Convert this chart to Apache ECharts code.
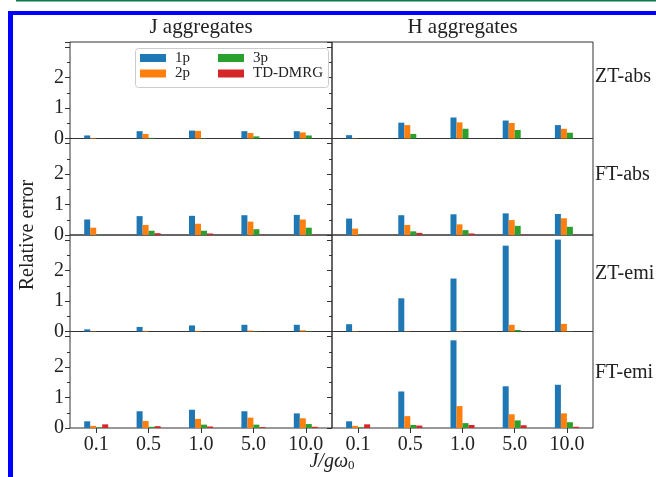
<!DOCTYPE html>
<html>
<head>
<meta charset="utf-8">
<script src="https://cdn.jsdelivr.net/npm/echarts@6/dist/echarts.min.js"></script>
<style>
  html, body { margin: 0; padding: 0; background: #fff; }
  #chart { width: 656px; height: 477px; }
</style>
</head>
<body>
<div id="chart"></div>
<script>
// ---------- data ----------
const categories = ['0.1', '0.5', '1.0', '5.0', '10.0'];
const methods = ['1p', '2p', '3p', 'TD-DMRG'];
const colTitles = ['J aggregates', 'H aggregates'];
const rowLabels = ['ZT-abs', 'FT-abs', 'ZT-emi', 'FT-emi'];
const yTicks = [0, 1, 2];

// each panel: [1p, 2p, 3p, TD-DMRG]
const jZtAbs = [
  [0.10, 0.24, 0.26, 0.24, 0.24],
  [0.02, 0.15, 0.25, 0.18, 0.20],
  [0.00, 0.02, 0.01, 0.07, 0.10],
  [0.00, 0.00, 0.00, 0.00, 0.00]
];
const hZtAbs = [
  [0.11, 0.52, 0.69, 0.59, 0.44],
  [0.01, 0.44, 0.53, 0.51, 0.32],
  [0.00, 0.15, 0.32, 0.28, 0.19],
  [0.00, 0.00, 0.00, 0.00, 0.00]
];
const jFtAbs = [
  [0.51, 0.62, 0.63, 0.65, 0.66],
  [0.24, 0.33, 0.37, 0.44, 0.51],
  [0.01, 0.14, 0.14, 0.19, 0.24],
  [0.00, 0.06, 0.05, 0.01, 0.01]
];
const hFtAbs = [
  [0.54, 0.65, 0.68, 0.71, 0.69],
  [0.21, 0.33, 0.35, 0.49, 0.55],
  [0.01, 0.12, 0.16, 0.30, 0.27],
  [0.00, 0.07, 0.05, 0.01, 0.01]
];
const jZtEmi = [
  [0.07, 0.15, 0.20, 0.22, 0.22],
  [0.01, 0.02, 0.02, 0.03, 0.04],
  [0.00, 0.00, 0.00, 0.01, 0.01],
  [0.00, 0.00, 0.00, 0.00, 0.00]
];
const hZtEmi = [
  [0.24, 1.09, 1.74, 2.82, 3.02],
  [0.01, 0.01, 0.01, 0.22, 0.25],
  [0.00, 0.00, 0.00, 0.05, 0.01],
  [0.00, 0.00, 0.00, 0.00, 0.00]
];
const jFtEmi = [
  [0.22, 0.55, 0.60, 0.55, 0.48],
  [0.07, 0.23, 0.30, 0.34, 0.32],
  [0.02, 0.04, 0.11, 0.11, 0.13],
  [0.12, 0.06, 0.05, 0.03, 0.04]
];
const hFtEmi = [
  [0.22, 1.20, 2.88, 1.37, 1.42],
  [0.07, 0.39, 0.72, 0.45, 0.48],
  [0.02, 0.10, 0.16, 0.25, 0.19],
  [0.12, 0.08, 0.10, 0.09, 0.04]
];
const panels = [
  [jZtAbs, hZtAbs],
  [jFtAbs, hFtAbs],
  [jZtEmi, hZtEmi],
  [jFtEmi, hFtEmi]
];

// ---------- layout / style ----------
const colors = ['#1f77b4', '#ff7f0e', '#2ca02c', '#d62728'];
const FONT = '"Liberation Serif", "DejaVu Serif", serif';
const TXT = '#222';
const colLeft = [70, 332];
const colWidth = [262, 261];
const rowTop0 = 42;
const rowH = 96.5;
const yMax = 3.17;

const grids = [], xAxes = [], yAxes = [], series = [];
let idx = 0;
for (let r = 0; r < 4; r++) {
  for (let c = 0; c < 2; c++) {
    const bottom = r === 3;
    grids.push({
      left: colLeft[c], top: rowTop0 + r * rowH, width: colWidth[c], height: rowH,
      show: true, borderColor: '#333', borderWidth: 1, backgroundColor: 'transparent'
    });
    xAxes.push({
      type: 'category', gridIndex: idx, data: categories, boundaryGap: true,
      axisLine: { show: false },
      axisTick: { show: bottom, alignWithLabel: true, inside: false, length: 5, lineStyle: { color: '#333' } },
      axisLabel: { show: bottom, fontFamily: FONT, fontSize: 20, color: TXT, margin: 7 },
      splitLine: { show: false }
    });
    yAxes.push({
      type: 'value', gridIndex: idx, min: 0, max: yMax, interval: 1,
      axisLine: { show: false },
      axisTick: { show: true, inside: false, length: 5, lineStyle: { color: '#333' } },
      minorTick: { show: true, splitNumber: 2, length: 3, lineStyle: { color: '#333' } },
      axisLabel: {
        show: c === 0, fontFamily: FONT, fontSize: 20, color: TXT, margin: 6,
        formatter: v => (yTicks.indexOf(v) >= 0 ? String(v) : '')
      },
      splitLine: { show: false }
    });
    const pdata = panels[r][c];
    for (let m = 0; m < 4; m++) {
      series.push({
        type: 'bar', name: methods[m], xAxisIndex: idx, yAxisIndex: idx,
        data: pdata[m], barWidth: 6, barGap: '0%',
        itemStyle: { color: colors[m] }
      });
    }
    idx++;
  }
}

// legend: 2 columns (column-major like matplotlib ncol=2)
const legendPos = [
  { name: '1p', left: 140, top: 50 },
  { name: '2p', left: 140, top: 65.5 },
  { name: '3p', left: 218, top: 50 },
  { name: 'TD-DMRG', left: 218, top: 65.5 }
];
const legends = legendPos.map(p => ({
  data: [p.name], left: p.left, top: p.top, padding: 0,
  itemWidth: 26, itemHeight: 8, icon: 'rect', selectedMode: false,
  textStyle: { fontFamily: FONT, fontSize: 15, color: TXT, lineHeight: 16, padding: [0, 0, 0, 4] }
}));

const graphics = [
  // journal frame
  { type: 'rect', shape: { x: 16, y: 0, width: 640, height: 1.5 }, style: { fill: '#0a7a48' }, silent: true },
  { type: 'rect', shape: { x: 8, y: 11, width: 648, height: 4 }, style: { fill: '#0000ff' }, silent: true },
  { type: 'rect', shape: { x: 8, y: 11, width: 5, height: 466 }, style: { fill: '#0000ff' }, silent: true },
  // legend box
  { type: 'rect', shape: { x: 135.5, y: 48.5, width: 193, height: 39, r: 3 },
    style: { fill: 'rgba(255,255,255,0.8)', stroke: '#cccccc', lineWidth: 1 }, z: 3, silent: true },
  // column titles
  { type: 'text', x: colLeft[0] + colWidth[0] / 2, y: 27,
    style: { text: colTitles[0], font: '21px ' + FONT, fill: TXT, align: 'center', verticalAlign: 'middle' } },
  { type: 'text', x: colLeft[1] + colWidth[1] / 2, y: 27,
    style: { text: colTitles[1], font: '21px ' + FONT, fill: TXT, align: 'center', verticalAlign: 'middle' } },
  // y label
  { type: 'text', x: 28, y: 235, rotation: Math.PI / 2,
    style: { text: 'Relative error', font: '20px ' + FONT, fill: TXT, align: 'center', verticalAlign: 'middle' } },
  // x label
  { type: 'text', x: 332, y: 462,
    style: {
      text: '{i|J/gω}{s|0}', align: 'center', verticalAlign: 'middle',
      rich: {
        i: { fontFamily: FONT, fontStyle: 'italic', fontSize: 20, fill: TXT, color: TXT },
        s: { fontFamily: FONT, fontSize: 13, fill: TXT, color: TXT, padding: [8, 0, 0, 0] }
      }
    } }
];
const rowLabelY = [77, 175, 274, 373];
rowLabels.forEach((t, i) => {
  graphics.push({ type: 'text', x: 595, y: rowLabelY[i],
    style: { text: t, font: '20px ' + FONT, fill: TXT, align: 'left', verticalAlign: 'middle' } });
});

const chart = echarts.init(document.getElementById('chart'), null, { renderer: 'canvas' });
chart.setOption({
  animation: false,
  backgroundColor: '#fff',
  grid: grids,
  xAxis: xAxes,
  yAxis: yAxes,
  series: series,
  legend: legends,
  graphic: graphics
});
</script>
</body>
</html>
